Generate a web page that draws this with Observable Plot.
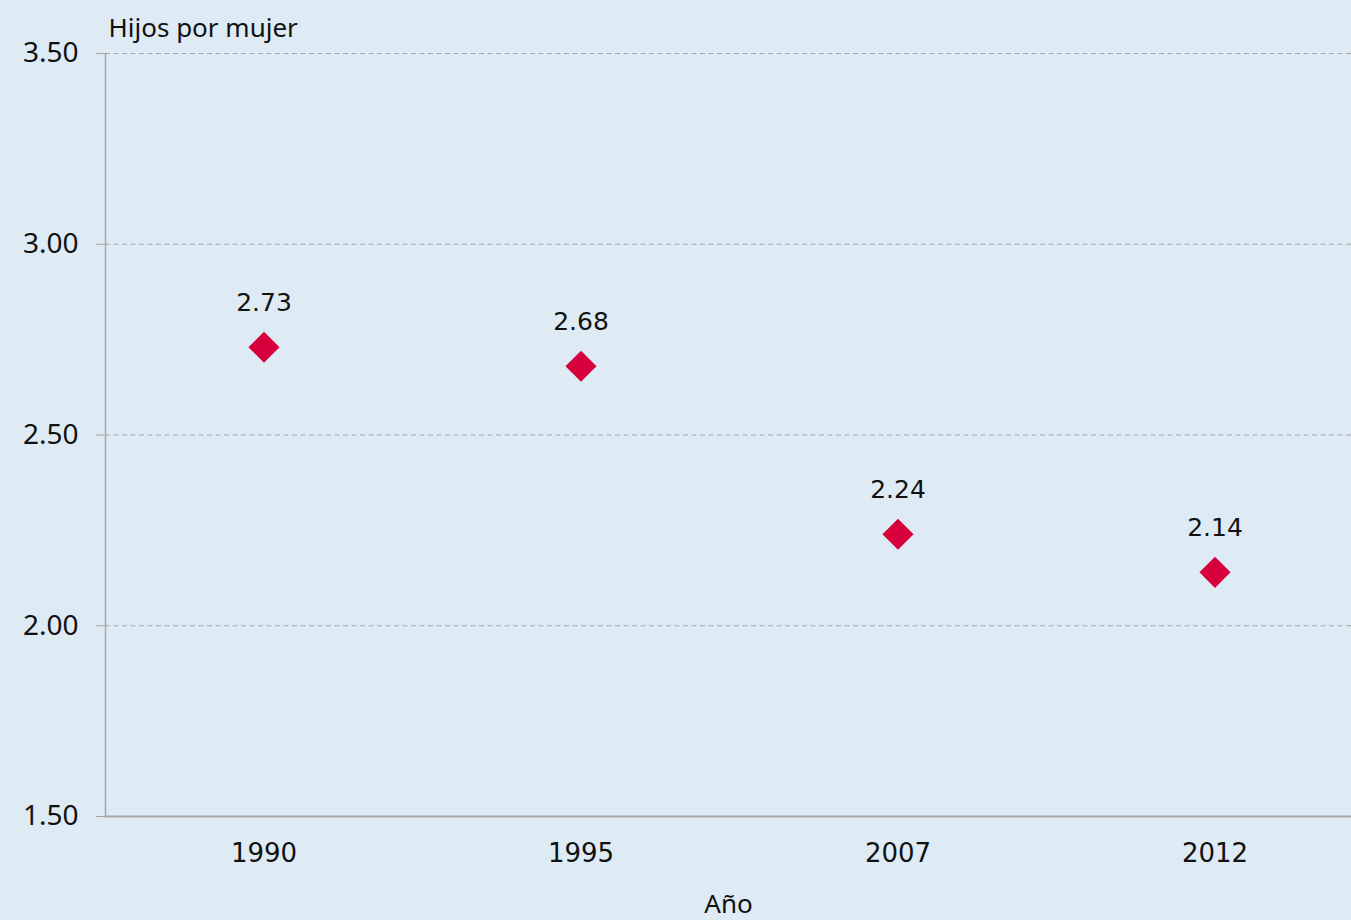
<!DOCTYPE html>
<html>
<head>
<meta charset="utf-8">
<script src="https://cdn.jsdelivr.net/npm/d3@7"></script>
<script src="https://cdn.jsdelivr.net/npm/@observablehq/plot@0.6"></script>
<style>
  html, body { margin: 0; padding: 0; background: #deebf4; overflow: hidden; }
  #chart svg { display: block; }
</style>
</head>
<body>
<div id="chart"></div>
<script>
const years = ["1990", "1995", "2007", "2012"];
const values = [2.73, 2.68, 2.24, 2.14];
const yTicks = [1.5, 2.0, 2.5, 3.0, 3.5];
const yTitle = "Hijos por mujer";
const xTitle = "Año";

const data = years.map((y, i) => ({year: y, value: values[i]}));
const grey = "#a6a6a6";
const red = "#d6003c";

const chart = Plot.plot({
  width: 1351,
  height: 920,
  marginLeft: 105,
  marginRight: 0,
  marginTop: 53,
  marginBottom: 104,
  style: {background: "#deebf4", color: "#111"},
  x: {type: "band", domain: years, range: [105, 1373], padding: 0, label: null},
  y: {domain: [1.5, 3.5], label: null},
  marks: [
    Plot.gridY(yTicks.filter(d => d > 1.5), {stroke: grey, strokeOpacity: 1, strokeDasharray: "5,3.5", strokeWidth: 1.2}),
    Plot.ruleY([1.5], {stroke: grey, strokeWidth: 2}),
    Plot.frame({anchor: "left", stroke: grey, strokeWidth: 1.5}),
    Plot.axisY({ticks: yTicks, tickFormat: d => d.toFixed(2), tickSize: 9, tickPadding: 18,
      stroke: grey, fill: "#111", fontSize: 28, fontFamily: "Noto Sans", label: null}),
    Plot.axisX({tickSize: 0, tickPadding: 27, fill: "#111", fontSize: 26, fontFamily: "DejaVu Sans", label: null}),
    Plot.dot(data, {x: "year", y: "value", symbol: "diamond2", r: 14, fill: red, stroke: null}),
    Plot.text(data, {x: "year", y: "value", text: d => d.value.toFixed(2), dy: -44,
      fontSize: 25, fontFamily: "DejaVu Sans", fill: "#111"}),
    Plot.text([yTitle], {frameAnchor: "top-left", textAnchor: "start", lineAnchor: "bottom", dx: 3, dy: -17,
      fontSize: 26, fontFamily: "Noto Sans", fill: "#111"}),
    Plot.text([xTitle], {frameAnchor: "bottom", lineAnchor: "bottom", dy: 96,
      fontSize: 26, fontFamily: "Noto Sans", fill: "#111"})
  ]
});
document.getElementById("chart").appendChild(chart);
</script>
</body>
</html>
